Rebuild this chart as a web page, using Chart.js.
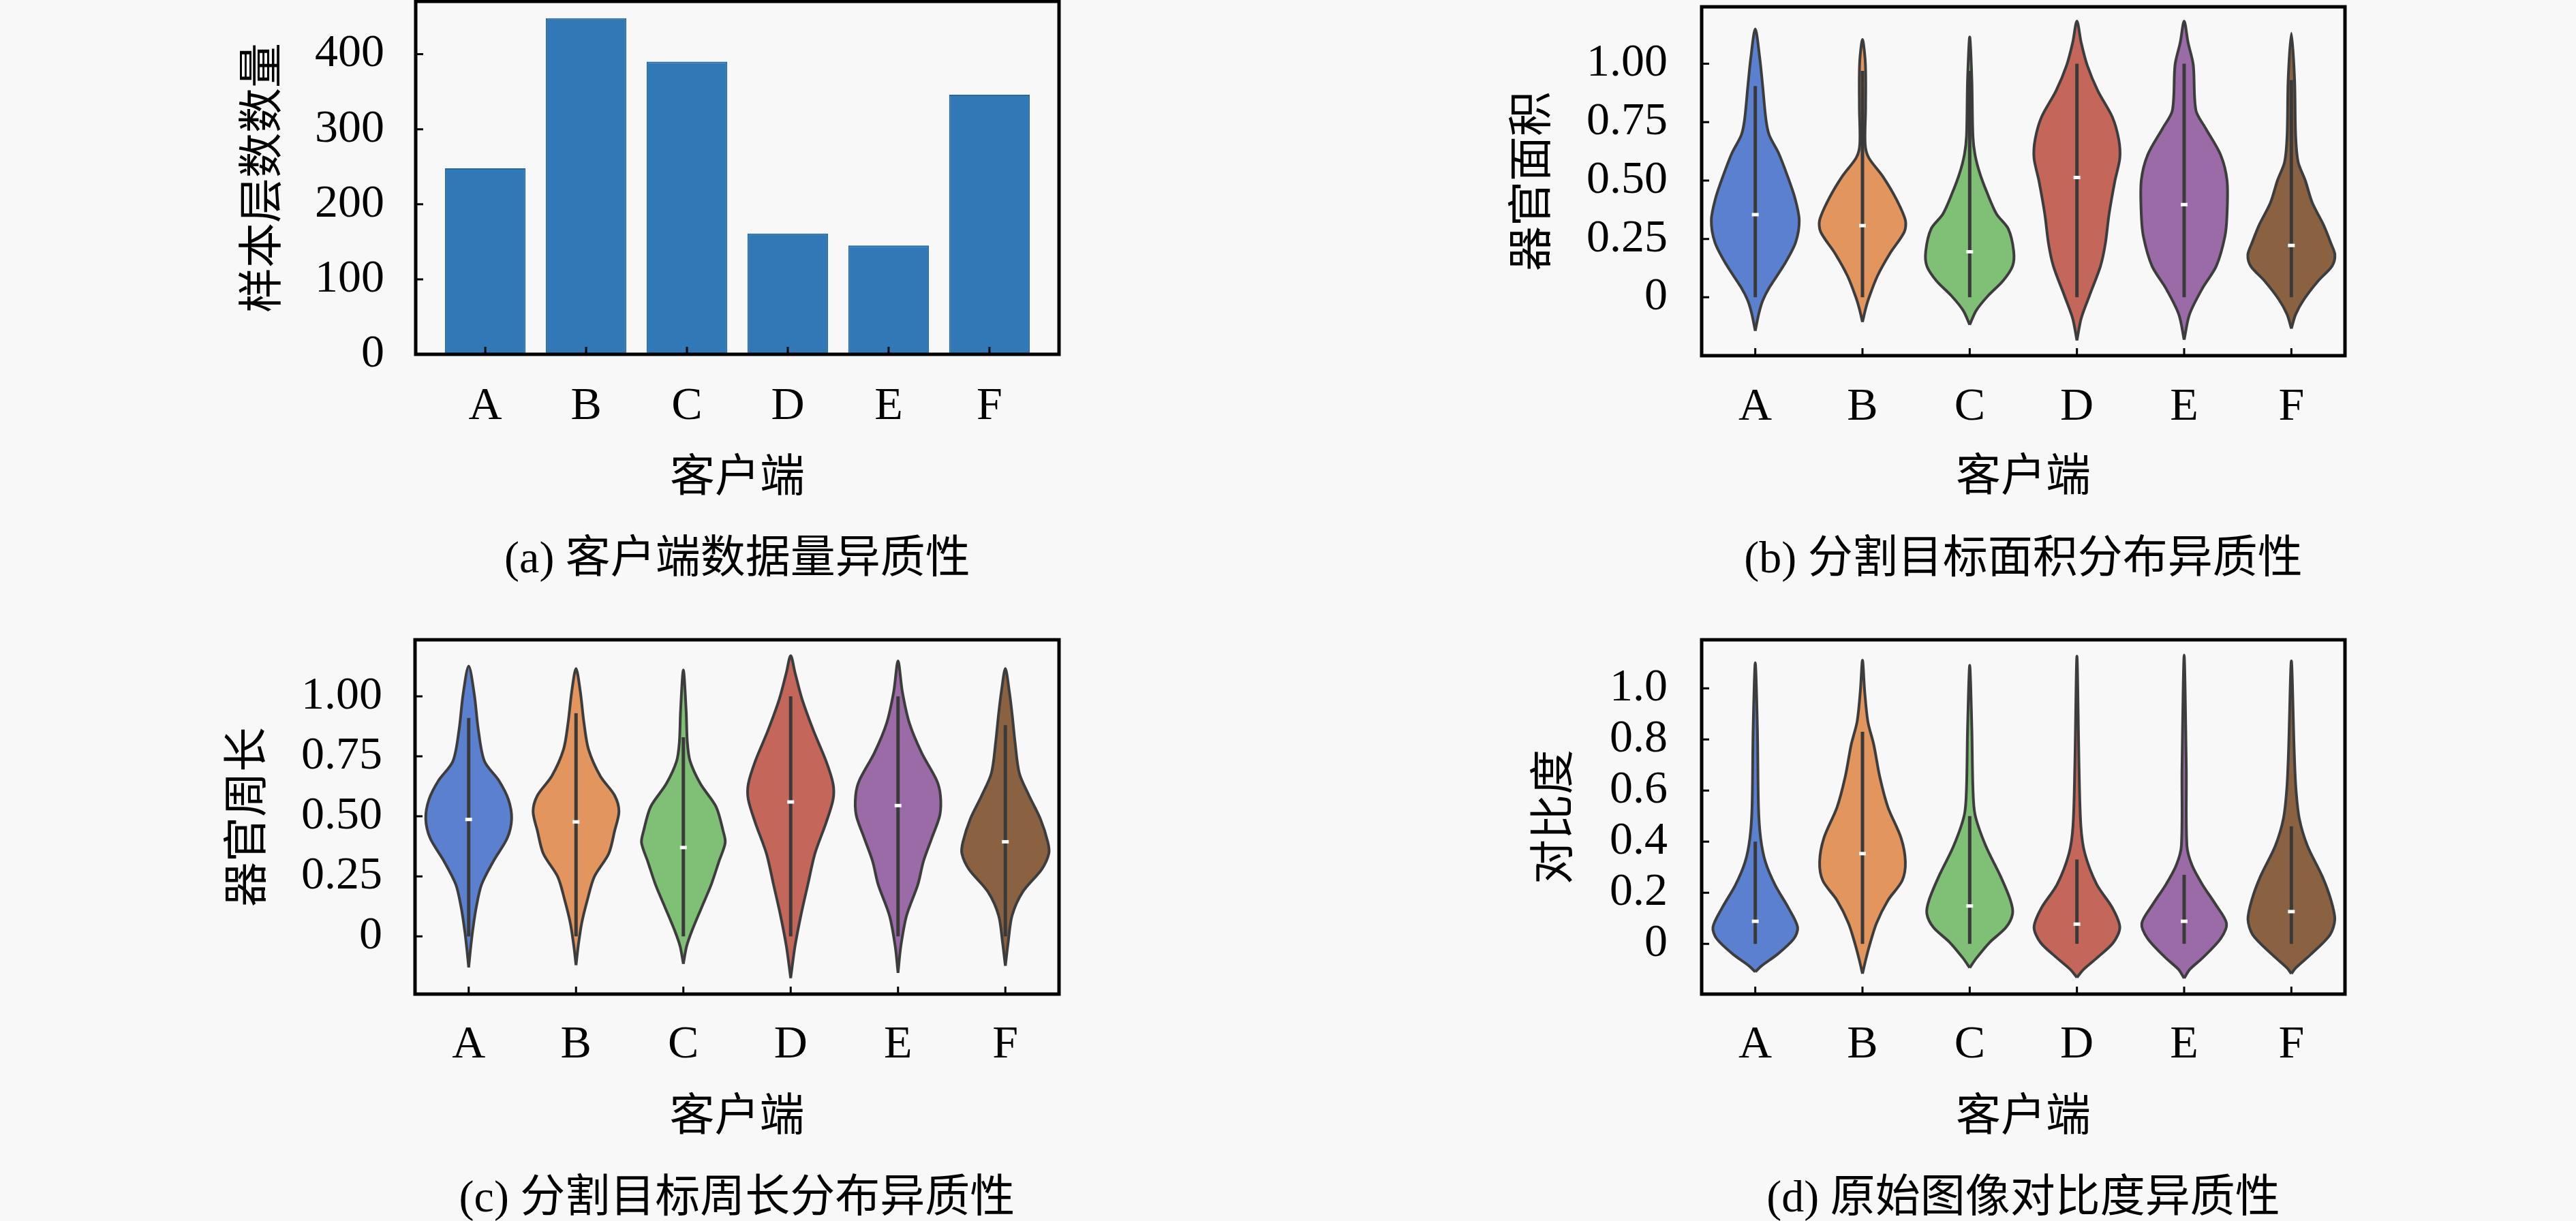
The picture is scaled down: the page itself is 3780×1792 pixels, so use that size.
<!DOCTYPE html>
<html><head><meta charset="utf-8">
<script src="https://cdn.jsdelivr.net/npm/chart.js@4.4.1/dist/chart.umd.min.js"></script>
<style>
html,body{margin:0;padding:0;background:#f8f8f8;}
body{width:3780px;height:1792px;position:relative;overflow:hidden;font-family:'Liberation Serif','Noto Sans CJK SC',serif;}
.box{position:absolute;}
.cap{position:absolute;font-size:66px;line-height:80px;height:80px;text-align:center;white-space:nowrap;color:#000;font-family:'Liberation Serif','Noto Sans CJK SC',serif;}
</style></head><body>
<div class="box" style="left:300px;top:0px;width:1300px;height:800px"><canvas id="ca"></canvas></div>
<div class="box" style="left:2150px;top:0px;width:1350px;height:800px"><canvas id="cb"></canvas></div>
<div class="box" style="left:300px;top:900px;width:1300px;height:800px"><canvas id="cc"></canvas></div>
<div class="box" style="left:2150px;top:900px;width:1350px;height:800px"><canvas id="cd"></canvas></div>
<div class="cap" style="left:610px;width:944px;top:778px">(a) 客户端数据量异质性</div>
<div class="cap" style="left:2497px;width:944px;top:778px">(b) 分割目标面积分布异质性</div>
<div class="cap" style="left:609px;width:945px;top:1716px">(c) 分割目标周长分布异质性</div>
<div class="cap" style="left:2497px;width:944px;top:1716px">(d) 原始图像对比度异质性</div>
<script>
// ---------------- data ----------------
const clients = ['A', 'B', 'C', 'D', 'E', 'F'];
const sampleCounts = [248, 448, 390, 161, 145, 346];
const countTicks = [0, 100, 200, 300, 400];
const countTickLabels = ['0', '100', '200', '300', '400'];
const unitTicks = [0, 0.25, 0.5, 0.75, 1.0];
const unitTickLabels = ['0', '0.25', '0.50', '0.75', '1.00'];
const contrastTicks = [0, 0.2, 0.4, 0.6, 0.8, 1.0];
const contrastTickLabels = ['0', '0.2', '0.4', '0.6', '0.8', '1.0'];

// violin outlines: [value, half-width] from bottom tip to top tip
const areaProfiles = [
  [[-0.144,0],[-0.072,0.032],[-0.014,0.07],[0.043,0.133],[0.14,0.27],[0.235,0.376],[0.33,0.41],[0.425,0.37],[0.52,0.30],[0.618,0.217],[0.695,0.13],[0.76,0.10],[0.905,0.069],[1.02,0.043],[1.149,0]],
  [[-0.106,0],[-0.053,0.027],[-0.005,0.058],[0.09,0.138],[0.187,0.255],[0.28,0.39],[0.33,0.40],[0.425,0.31],[0.52,0.186],[0.598,0.058],[0.655,0.025],[0.81,0.029],[1.0,0.027],[1.104,0]],
  [[-0.118,0],[-0.057,0.06],[0.006,0.17],[0.07,0.31],[0.134,0.40],[0.198,0.41],[0.293,0.36],[0.357,0.25],[0.45,0.16],[0.53,0.095],[0.61,0.05],[0.69,0.03],[0.93,0.02],[1.115,0]],
  [[-0.185,0],[-0.09,0.04],[0.006,0.116],[0.134,0.22],[0.23,0.265],[0.357,0.30],[0.5,0.355],[0.596,0.40],[0.676,0.39],[0.772,0.33],[0.884,0.195],[0.995,0.095],[1.09,0.04],[1.183,0]],
  [[-0.182,0],[-0.073,0.05],[0.038,0.17],[0.134,0.30],[0.26,0.38],[0.357,0.40],[0.5,0.40],[0.61,0.34],[0.724,0.2],[0.80,0.11],[0.995,0.085],[1.09,0.037],[1.183,0]],
  [[-0.134,0],[-0.073,0.04],[-0.01,0.116],[0.07,0.25],[0.134,0.38],[0.182,0.406],[0.23,0.37],[0.31,0.30],[0.405,0.195],[0.5,0.13],[0.58,0.063],[0.69,0.04],[0.93,0.03],[1.13,0]]
];
const areaMedians = [0.354, 0.307, 0.195, 0.513, 0.397, 0.222];
const areaWhiskers = [[0,0.905],[0,0.97],[0,0.97],[0,1.0],[0,1.0],[0,0.93]];

const perimeterProfiles = [
  [[-0.13,0],[-0.058,0.016],[0.023,0.037],[0.12,0.07],[0.216,0.12],[0.313,0.23],[0.41,0.36],[0.49,0.40],[0.57,0.37],[0.65,0.28],[0.73,0.147],[0.86,0.09],[1.006,0.053],[1.127,0]],
  [[-0.12,0],[-0.042,0.02],[0.055,0.053],[0.15,0.105],[0.248,0.17],[0.345,0.305],[0.44,0.36],[0.52,0.40],[0.587,0.36],[0.668,0.226],[0.78,0.116],[0.89,0.074],[1.02,0.04],[1.116,0]],
  [[-0.115,0],[-0.042,0.03],[0.023,0.08],[0.12,0.17],[0.216,0.26],[0.31,0.33],[0.39,0.39],[0.44,0.37],[0.54,0.305],[0.635,0.16],[0.73,0.063],[0.81,0.037],[0.94,0.026],[1.11,0]],
  [[-0.174,0],[-0.042,0.04],[0.087,0.095],[0.216,0.16],[0.345,0.226],[0.474,0.33],[0.57,0.395],[0.635,0.395],[0.73,0.33],[0.86,0.21],[0.99,0.105],[1.10,0.04],[1.17,0]],
  [[-0.152,0],[-0.042,0.026],[0.087,0.08],[0.216,0.185],[0.313,0.237],[0.41,0.315],[0.506,0.39],[0.587,0.395],[0.65,0.36],[0.765,0.22],[0.89,0.105],[1.02,0.04],[1.148,0]],
  [[-0.123,0],[-0.026,0.026],[0.087,0.063],[0.184,0.16],[0.28,0.34],[0.345,0.405],[0.394,0.395],[0.49,0.326],[0.587,0.22],[0.68,0.13],[0.81,0.09],[0.926,0.063],[1.02,0.037],[1.116,0]]
];
const perimeterMedians = [0.487, 0.477, 0.37, 0.56, 0.545, 0.394];
const perimeterWhiskers = [[0,0.91],[0,0.93],[0,0.83],[0,1.0],[0,1.0],[0,0.88]];

const contrastProfiles = [
  [[-0.11,0],[-0.086,0.06],[-0.04,0.21],[0.02,0.36],[0.065,0.395],[0.14,0.31],[0.23,0.185],[0.32,0.095],[0.414,0.05],[0.535,0.03],[0.838,0.02],[1.10,0]],
  [[-0.117,0],[-0.07,0.026],[-0.01,0.063],[0.08,0.13],[0.17,0.237],[0.247,0.37],[0.32,0.40],[0.414,0.36],[0.535,0.237],[0.656,0.16],[0.78,0.105],[0.87,0.05],[0.99,0.02],[1.11,0]],
  [[-0.094,0],[-0.056,0.063],[0.005,0.185],[0.065,0.34],[0.118,0.40],[0.17,0.38],[0.262,0.29],[0.383,0.15],[0.505,0.05],[0.61,0.03],[0.84,0.02],[1.09,0]],
  [[-0.132,0],[-0.1,0.063],[-0.056,0.185],[0.005,0.34],[0.065,0.40],[0.141,0.33],[0.232,0.185],[0.353,0.074],[0.46,0.037],[0.686,0.02],[1.126,0]],
  [[-0.135,0],[-0.1,0.053],[-0.056,0.17],[0.02,0.34],[0.08,0.395],[0.156,0.29],[0.232,0.17],[0.307,0.074],[0.383,0.026],[0.686,0.02],[1.13,0]],
  [[-0.117,0],[-0.094,0.042],[-0.04,0.185],[0.035,0.36],[0.095,0.405],[0.17,0.37],[0.262,0.29],[0.383,0.15],[0.49,0.074],[0.61,0.042],[0.76,0.026],[1.107,0]]
];
const contrastMedians = [0.088, 0.353, 0.148, 0.077, 0.088, 0.126];
const contrastWhiskers = [[0,0.40],[0,0.83],[0,0.50],[0,0.33],[0,0.27],[0,0.46]];

// ---------------- styling ----------------
const FONT = "'Liberation Serif', 'Noto Sans CJK SC', serif";
const violinColors = ['#5a80cf', '#e2955c', '#80bf76', '#c5665a', '#9a6ba7', '#8a6242'];

const framePlugin = {
  id: 'frame',
  afterDatasetsDraw(chart) {
    const {ctx, chartArea: a, scales} = chart;
    ctx.save();
    ctx.strokeStyle = '#000';
    ctx.lineWidth = 3;
    ctx.beginPath();
    scales.y.ticks.forEach((t, i) => {
      const y = scales.y.getPixelForTick(i);
      ctx.moveTo(a.left, y); ctx.lineTo(a.left + 11, y);
    });
    scales.x.ticks.forEach((t, i) => {
      const x = scales.x.getPixelForTick(i);
      ctx.moveTo(x, a.bottom); ctx.lineTo(x, a.bottom - 11);
    });
    ctx.stroke();
    ctx.lineWidth = 5;
    ctx.strokeRect(a.left, a.top, a.right - a.left, a.bottom - a.top);
    ctx.restore();
  }
};

function yScale(min, max, vals, labels, width, labelPad, title, titlePad) {
  return {
    type: 'linear', position: 'left', min, max, offset: false,
    grid: {display: false, drawTicks: false, offset: false}, border: {display: false},
    afterBuildTicks: s => { s.ticks = vals.map(v => ({value: v})); },
    afterFit: s => { s.width = width; s.paddingTop = 0; s.paddingBottom = 0; },
    ticks: {padding: labelPad, color: '#000', font: {family: FONT, size: 68, lineHeight: 1.2},
            callback: (v, i) => labels[i]},
    title: {display: true, text: title, color: '#000', font: {family: FONT, size: 66, lineHeight: 1.2},
            padding: {top: titlePad, bottom: 0}}
  };
}
function xScale(min, max, height, labelPad, titlePad) {
  return {
    type: 'linear', position: 'bottom', min, max, offset: false,
    grid: {display: false, drawTicks: false, offset: false}, border: {display: false},
    afterBuildTicks: s => { s.ticks = clients.map((c, i) => ({value: i})); },
    afterFit: s => { s.height = height; s.paddingLeft = 0; s.paddingRight = 0; },
    ticks: {padding: labelPad, color: '#000', autoSkip: false, maxRotation: 0,
            font: {family: FONT, size: 68, lineHeight: 1.2}, callback: (v, i) => clients[i]},
    title: {display: true, text: '客户端', color: '#000', font: {family: FONT, size: 66, lineHeight: 1.2},
            padding: {top: 0, bottom: titlePad}}
  };
}
const baseOpts = {
  animation: false, responsive: true, maintainAspectRatio: false,
  plugins: {legend: {display: false}, tooltip: {enabled: false}}
};

// ---------------- (a) bar chart ----------------
new Chart(document.getElementById('ca'), {
  type: 'bar',
  data: {datasets: [{
    data: sampleCounts.map((v, i) => ({x: i, y: v})),
    backgroundColor: '#3179b6', borderColor: '#2567a8', borderWidth: 2,
    categoryPercentage: 0.8, barPercentage: 1.0
  }]},
  options: Object.assign({}, baseOpts, {
    layout: {padding: {left: 0, right: 46, top: 2, bottom: 0}},
    scales: {
      x: xScale(-0.69, 5.69, 280, 36, 57),
      y: yScale(0, 470.4, countTicks, countTickLabels, 310, 46, '样本层数数量', 49)
    }
  }),
  plugins: [framePlugin]
});

// ---------------- violins ----------------
function violinChart(id, profiles, medians, whiskers, yMin, yMax, ticks, tickLabels, yTitle, g) {
  const datasets = [];
  profiles.forEach((prof, i) => {
    const right = prof.map(([v, w]) => ({x: i + w, y: v}));
    const left = prof.slice(0, -1).reverse().map(([v, w]) => ({x: i - w, y: v}));
    datasets.push({type: 'line', data: right.concat(left), backgroundColor: violinColors[i],
      borderColor: '#3d3d3d', borderWidth: 4, pointRadius: 0, fill: 'shape', tension: 0.3, order: 3});
    datasets.push({type: 'line', data: [{x: i, y: whiskers[i][0]}, {x: i, y: whiskers[i][1]}],
      borderColor: '#3a3a3a', borderWidth: 5, pointRadius: 0, fill: false, order: 2});
    datasets.push({type: 'scatter', data: [{x: i, y: medians[i]}], pointStyle: 'line', pointRadius: 5,
      borderColor: '#ffffff', borderWidth: 5, backgroundColor: '#ffffff', order: 1});
  });
  new Chart(document.getElementById(id), {
    type: 'scatter',
    data: {datasets},
    options: Object.assign({}, baseOpts, {
      layout: {padding: {left: 0, right: g.right, top: g.top, bottom: 0}},
      scales: {
        x: xScale(-0.5, 5.5, g.xh, g.xlp, g.xtp),
        y: yScale(yMin, yMax, ticks, tickLabels, g.yw, g.ylp, yTitle, g.ytp)
      }
    }),
    plugins: [framePlugin]
  });
}
violinChart('cb', areaProfiles, areaMedians, areaWhiskers, -0.25, 1.244, unitTicks, unitTickLabels, '器官面积',
  {right: 59, top: 2, xh: 278, xlp: 35, xtp: 58, yw: 347, ylp: 50, ytp: 62});
violinChart('cc', perimeterProfiles, perimeterMedians, perimeterWhiskers, -0.241, 1.236, unitTicks, unitTickLabels, '器官周长',
  {right: 46, top: 39, xh: 241, xlp: 34, xtp: 19, yw: 309, ylp: 48, ytp: 27});
violinChart('cd', contrastProfiles, contrastMedians, contrastWhiskers, -0.197, 1.19, contrastTicks, contrastTickLabels, '对比度',
  {right: 59, top: 39, xh: 241, xlp: 34, xtp: 19, yw: 347, ylp: 50, ytp: 94});
</script>
</body></html>
